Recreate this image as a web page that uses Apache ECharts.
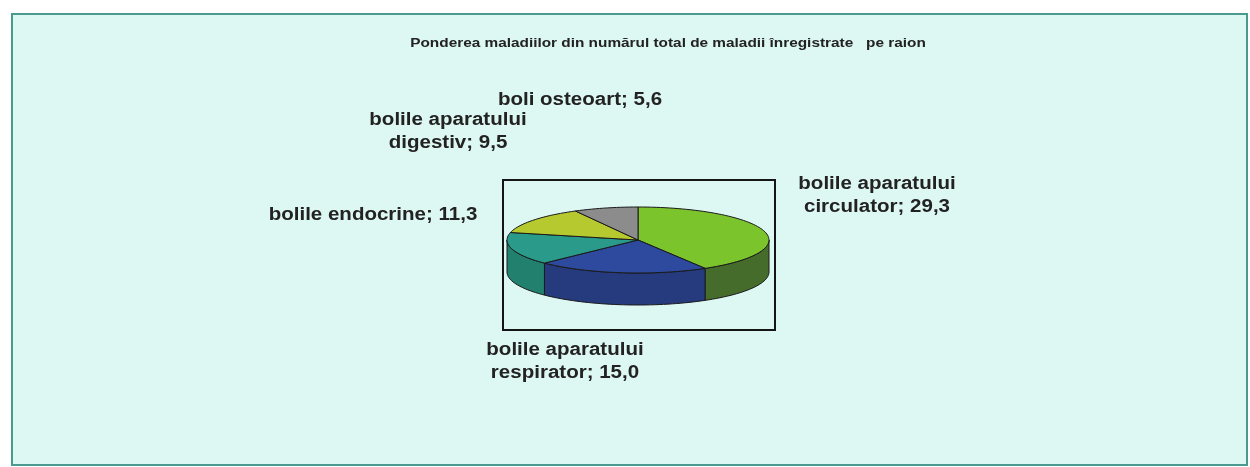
<!DOCTYPE html>
<html>
<head>
<meta charset="utf-8">
<script src="https://cdn.jsdelivr.net/npm/echarts@6/dist/echarts.min.js"></script>
<style>
  html, body { margin: 0; padding: 0; background: #ffffff; }
  #container { width: 1250px; height: 467px; }
</style>
</head>
<body>
<div id="container"></div>
<script>
// date din grafic
var titlu = 'Ponderea maladiilor din numărul total de maladii înregistrate   pe raion';
var categorii = ['bolile aparatului\ncirculator', 'bolile aparatului\nrespirator', 'bolile endocrine', 'bolile aparatului\ndigestiv', 'boli osteoart'];
var valori = [29.3, 15.0, 11.3, 9.5, 5.6];

// stiluri
var culoriSus = ['#7cc42c', '#2e4a9e', '#2a9a8a', '#b6c92e', '#8c8c8c'];
var culoriLateral = ['#466c2c', '#263a7e', '#22806f', '#8a9a22', '#6a6a6a'];
var etichetePoz = [[877, 196], [565, 362], [373, 215], [448, 132], [580, 100]];

var cx = 638, cy = 240, rx = 131, ry = 33, adancime = 32;

var total = 0;
var cumul = [];
for (var i = 0; i < valori.length; i++) {
  cumul.push(total);
  total += valori[i];
}

function punct(grade, dy) {
  var r = grade * Math.PI / 180;
  return [cx + rx * Math.cos(r), cy - ry * Math.sin(r) + (dy || 0)];
}

function arc(a, b, dy) {
  // puncte de la unghiul a la unghiul b
  var pts = [];
  var n = Math.max(2, Math.ceil(Math.abs(a - b) / 2));
  for (var k = 0; k <= n; k++) {
    pts.push(punct(a + (b - a) * k / n, dy));
  }
  return pts;
}

function unghiuri(idx, val) {
  var start = 90 - cumul[idx] / total * 360;
  var end = start - val / total * 360;
  return [start, end];
}

function desenLateral(params, api) {
  var idx = params.dataIndex;
  var u = unghiuri(idx, api.value(0));
  var hi = Math.min(u[0], 0), lo = Math.max(u[1], -180);
  if (lo >= hi) return null;
  var pts = arc(hi, lo, 0).concat(arc(lo, hi, adancime));
  return {
    type: 'polygon',
    shape: { points: pts },
    style: { fill: culoriLateral[idx], stroke: '#1a1a1a', lineWidth: 1 }
  };
}

function desenSus(params, api) {
  var idx = params.dataIndex;
  var val = api.value(0);
  var u = unghiuri(idx, val);
  var pts = [[cx, cy]].concat(arc(u[0], u[1], 0));
  return {
    type: 'group',
    children: [{
      type: 'polygon',
      shape: { points: pts },
      style: { fill: culoriSus[idx], stroke: '#1a1a1a', lineWidth: 1 }
    }, {
      type: 'text',
      x: etichetePoz[idx][0],
      y: etichetePoz[idx][1],
      scaleX: 1.14,
      style: {
        text: categorii[idx] + '; ' + val.toFixed(1).replace('.', ','),
        fill: '#222222',
        font: 'bold 18px "Liberation Sans", Arial, sans-serif',
        lineHeight: 23,
        align: 'center',
        verticalAlign: 'middle'
      }
    }]
  };
}

var option = {
  backgroundColor: '#ffffff',
  animation: false,
  graphic: [
    {
      type: 'rect', z: -10,
      shape: { x: 12, y: 14, width: 1235, height: 451 },
      style: { fill: '#ddf7f3', stroke: '#4a9a90', lineWidth: 2 }
    },
    {
      type: 'rect', z: -5,
      shape: { x: 503, y: 180, width: 272, height: 150 },
      style: { fill: 'none', stroke: '#151515', lineWidth: 2 }
    },
    {
      type: 'text', z: 5,
      x: 668, y: 44,
      scaleX: 1.28,
      style: {
        text: titlu,
        fill: '#222222',
        font: 'bold 12px "Liberation Sans", Arial, sans-serif',
        align: 'center',
        verticalAlign: 'middle'
      }
    }
  ],
  series: [
    {
      type: 'custom',
      coordinateSystem: 'none',
      z: 2,
      renderItem: desenLateral,
      data: valori
    },
    {
      type: 'custom',
      coordinateSystem: 'none',
      z: 3,
      renderItem: desenSus,
      data: valori
    }
  ]
};

var myChart = echarts.init(document.getElementById('container'));
myChart.setOption(option);
</script>
</body>
</html>
